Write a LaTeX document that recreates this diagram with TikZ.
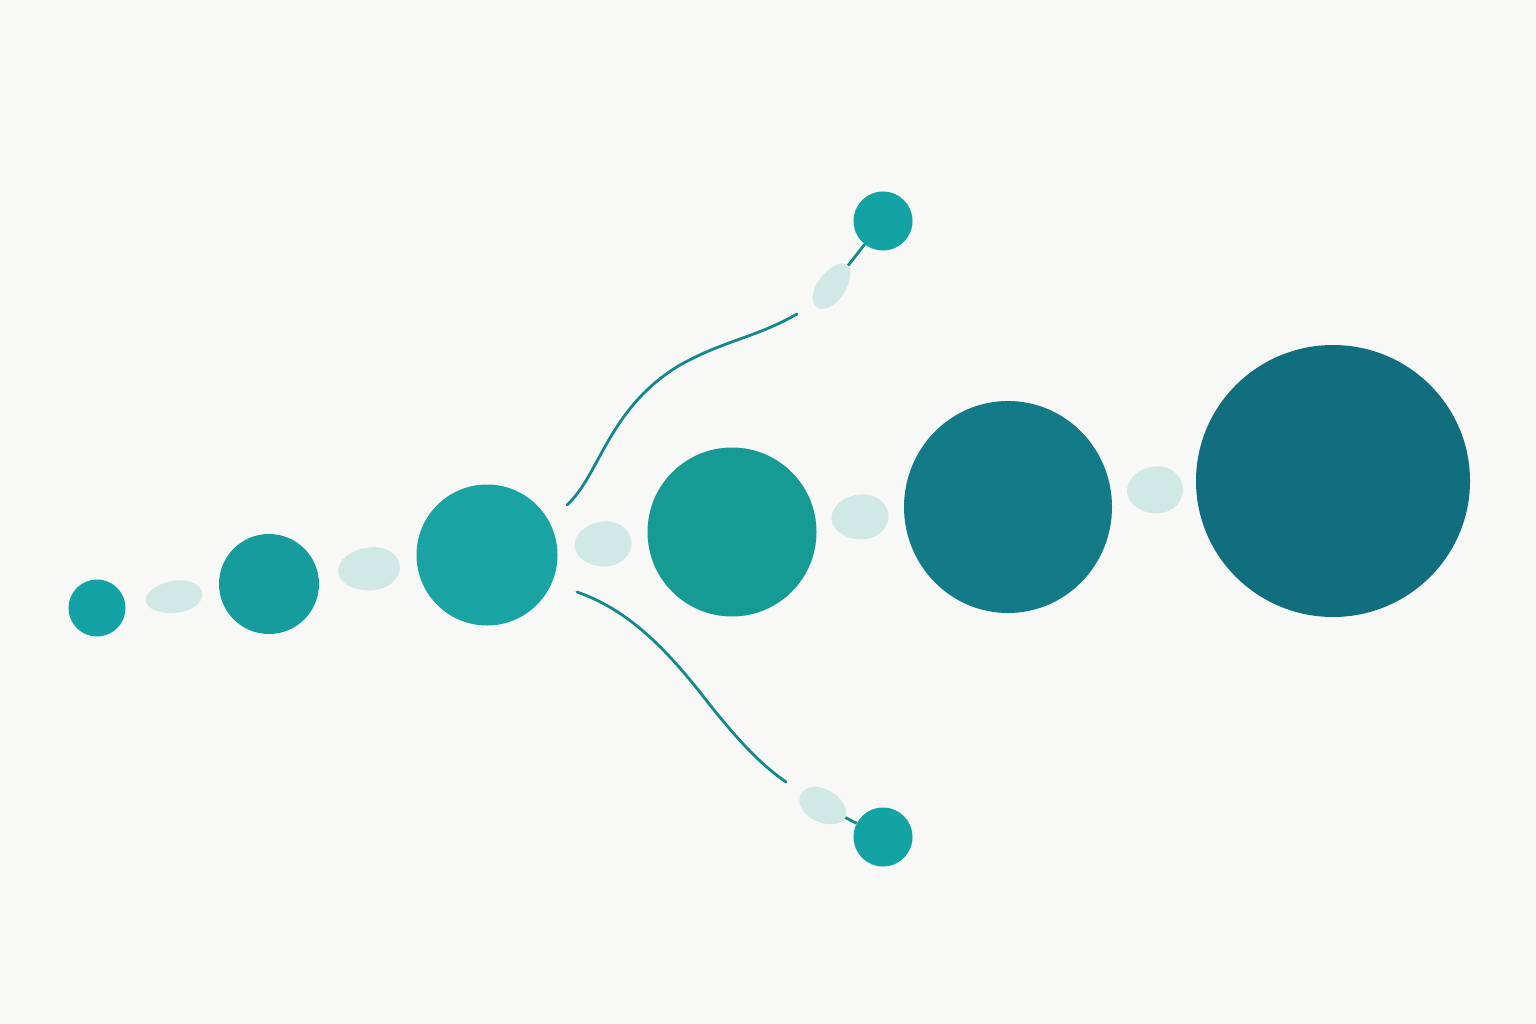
\documentclass[tikz,border=0pt]{standalone}
\usetikzlibrary{shapes.geometric}
\definecolor{bg}{HTML}{F8F8F6}
\definecolor{tealA}{HTML}{14A3A4}
\definecolor{tealB}{HTML}{179C9D}
\definecolor{tealC}{HTML}{1AA3A3}
\definecolor{tealD}{HTML}{159A94}
\definecolor{tealE}{HTML}{137B88}
\definecolor{tealF}{HTML}{116E7E}
\definecolor{pale}{HTML}{D1E9E4}
\definecolor{linec}{HTML}{13898E}
\tikzset{
  dot/.style={circle, inner sep=0pt, draw=none, fill=#1},
  bigdot/.style={ellipse, inner sep=0pt, draw=none, fill=#1},
  blob/.style={ellipse, inner sep=0pt, draw=none},
  link/.style={draw=linec, line width=2.8pt, line cap=round},
}
% egg: centre x, centre y, rotation, half length, half width (fat end along +x)
\newcommand{\eggfill}[5]{%
  \fill[pale, shift={(#1,#2)}, rotate=#3, xscale=#4, yscale=#5]
    (-1,0) .. controls (-1,0.55) and (-0.5,1) .. (0.1,1)
    .. controls (0.6,1) and (1,0.55) .. (1,0)
    .. controls (1,-0.55) and (0.6,-1) .. (0.1,-1)
    .. controls (-0.5,-1) and (-1,-0.55) .. (-1,0) -- cycle;}
\begin{document}
\begin{tikzpicture}[x=1pt,y=-1pt]
\fill[bg] (0,0) rectangle (1536,1024);
\useasboundingbox (0,0) rectangle (1536,1024);
% main circles
\node[dot=tealA, minimum size=57pt] (c1) at (97,608) {};
\node[dot=tealB, minimum size=100pt] (c2) at (269,584) {};
\node[dot=tealC, minimum size=141pt] (c3) at (487,555) {};
\node[dot=tealD, minimum size=169pt] (c4) at (732,532) {};
\node[bigdot=tealE, minimum width=208pt, minimum height=212pt] (c5) at (1008,507) {};
\node[bigdot=tealF, minimum width=274pt, minimum height=272pt] (c6) at (1333,481) {};
\node[dot=tealA, minimum size=59pt] (ct) at (883,221) {};
\node[dot=tealA, minimum size=59pt] (cb) at (883,837) {};
% pale blobs (egg shapes)
\eggfill{174}{597}{8}{28.5}{16}
\eggfill{369}{569}{6}{31}{21.5}
\eggfill{603}{544}{4}{28.5}{22.5}
\eggfill{860}{517}{4}{28.5}{22.5}
\eggfill{1155}{490}{4}{28}{23.5}
\eggfill{832}{286}{235}{26}{14}
\eggfill{823}{806}{152}{25}{16.5}
\node[blob, minimum width=52pt, minimum height=27pt, rotate=55] (bt) at (832,286) {};
\node[blob, minimum width=50pt, minimum height=32pt, rotate=-28] (bb) at (823,806) {};
% branch curves
\coordinate (t0) at (567,505);
\coordinate (t1) at (797,314);
\coordinate (u0) at (577,592);
\coordinate (u1) at (786,782);
\draw[link] (t0) .. controls (600,475) and (608,408) .. (680,365)
  .. controls (725,340) and (755,338) .. (t1);
\draw[link] (u0) .. controls (635,612) and (675,660) .. (710,705)
  .. controls (738,740) and (760,764) .. (u1);
\draw[link, line cap=butt] (bt) -- (ct);
\draw[link, line cap=butt] (bb) -- (cb);
\end{tikzpicture}
\end{document}
